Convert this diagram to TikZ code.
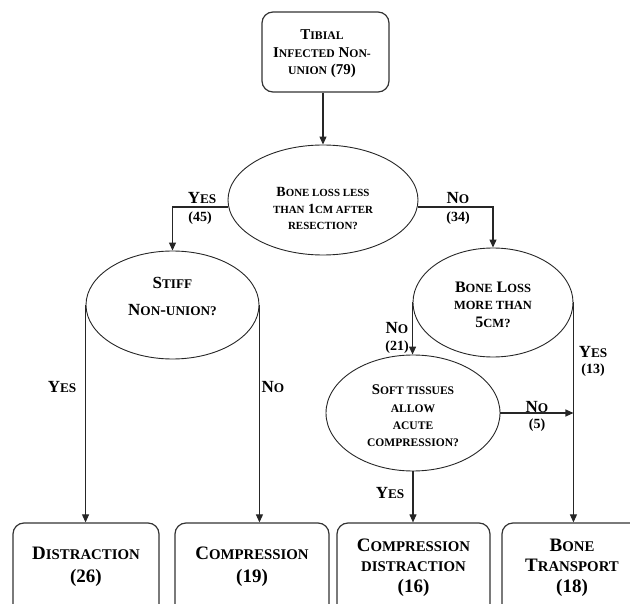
\documentclass[tikz,border=0pt]{standalone}
\usepackage{fontspec}
\setmainfont{Liberation Serif}
\usetikzlibrary{shapes.geometric,arrows.meta}
\makeatletter
\newcommand\lc[1]{{\fontsize{\fpeval{0.78*\f@size}}{\f@baselineskip}\selectfont\MakeUppercase{#1}}}
\makeatother
\begin{document}
\begin{tikzpicture}[x=1pt,y=-1pt,
  line/.style={line width=1.1pt, draw=black!85},
  arr/.style={line, -{Triangle[length=8pt,width=7pt]}},
  ell/.style={ellipse, draw=black!85, line width=0.9pt, inner sep=0},
  box/.style={rectangle, rounded corners=11pt, draw=black!80, line width=1.2pt, inner sep=0},
  tx/.style={align=center, inner sep=0},
  lab/.style={inner sep=0, font=\bfseries\fontsize{17}{19}\selectfont},
  num/.style={inner sep=0, font=\bfseries\fontsize{14}{16}\selectfont},
]
\useasboundingbox (0,0) rectangle (630,604);

% shapes
\node[box, minimum width=127pt, minimum height=80pt] (top) at (325.5,52) {};
\node[ell, minimum width=190pt, minimum height=110pt] (q1) at (323,200) {};
\node[ell, minimum width=173pt, minimum height=108pt] (stiff) at (172.5,305) {};
\node[ell, minimum width=160pt, minimum height=109pt] (q2) at (493,302.5) {};
\node[ell, minimum width=174pt, minimum height=116pt] (soft) at (413,413) {};
\node[box, minimum width=146pt, minimum height=102pt] (dis) at (86,574) {};
\node[box, minimum width=154pt, minimum height=102pt] (comp) at (252,574) {};
\node[box, minimum width=153pt, minimum height=102pt] (cd) at (413.5,574) {};
\node[box, minimum width=140pt, minimum height=102pt] (bt) at (572,574) {};

% texts
\node[tx, font=\bfseries\fontsize{15}{17.5}\selectfont] (toptx) at (322,54) {T\lc{ibial}\\I\lc{nfected} N\lc{on-}\\\lc{union} (79)};
\node[tx, font=\bfseries\fontsize{14}{16.5}\selectfont] (q1tx) at (323,208.5) {B\lc{one loss less}\\\lc{than} 1\lc{cm after}\\\lc{resection?}};
\node[tx, font=\bfseries\fontsize{17}{27}\selectfont] (stifftx) at (172.5,296.5) {S\lc{tiff}\\N\lc{on}-\lc{union?}};
\node[tx, font=\bfseries\fontsize{16}{17.5}\selectfont] (q2tx) at (493,304.5) {B\lc{one} L\lc{oss}\\\lc{more than}\\5\lc{cm?}};
\node[tx, font=\bfseries\fontsize{14.8}{17.3}\selectfont] (softtx) at (413,416) {S\lc{oft tissues}\\\lc{allow}\\\lc{acute}\\\lc{compression?}};
\node[tx, font=\bfseries\fontsize{19}{23}\selectfont] (distx) at (86,566.5) {D\lc{istraction}\\(26)};
\node[tx, font=\bfseries\fontsize{19}{23}\selectfont] (comptx) at (252,566.5) {C\lc{ompression}\\(19)};
\node[tx, font=\bfseries\fontsize{19}{20.5}\selectfont] (cdtx) at (413.5,567.5) {C\lc{ompression}\\\lc{distraction}\\(16)};
\node[tx, font=\bfseries\fontsize{19}{20.5}\selectfont] (bttx) at (572,567.5) {B\lc{one}\\T\lc{ransport}\\(18)};

% labels
\node[lab] (ly1) at (202,198) {Y\lc{es}};
\node[num] (ln45) at (200,218) {(45)};
\node[lab] (ln1) at (458,198) {N\lc{o}};
\node[num] (ln34) at (458,218) {(34)};
\node[lab] (ly2) at (62,387) {Y\lc{es}};
\node[lab] (ln2) at (273,387) {N\lc{o}};
\node[lab] (ln3) at (397,328) {N\lc{o}};
\node[num] (ln21) at (397,347) {(21)};
\node[lab] (ly3) at (593,352) {Y\lc{es}};
\node[num] (ln13) at (593,370) {(13)};
\node[lab] (ln4) at (537,407) {N\lc{o}};
\node[num] (ln5) at (537,425) {(5)};
\node[lab] (ly4) at (390,493) {Y\lc{es}};

% connectors
\draw[arr] (top.south -| q1.north) -- (q1.north);
\draw[arr] ([yshift=-7pt]q1.west) -| (stiff.north);
\draw[arr] ([yshift=-7pt]q1.east) -| (q2.north);
\draw[arr] (stiff.west) -- (stiff.west |- dis.north);
\draw[arr] (stiff.east) -- (stiff.east |- comp.north);
\draw[arr] (q2.west) -- (q2.west |- soft.north);
\draw[arr] (q2.east) -- (q2.east |- bt.north);
\draw[arr] (soft.east) -- (soft.east -| q2.east);
\draw[arr] (soft.south) -- (soft.south |- cd.north);
\end{tikzpicture}
\end{document}
